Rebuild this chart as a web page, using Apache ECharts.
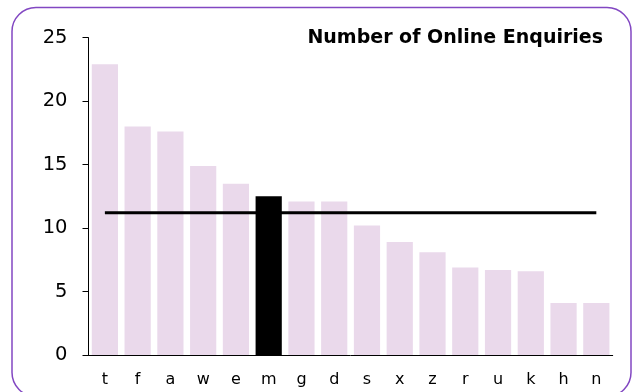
<!DOCTYPE html>
<html>
<head>
<meta charset="utf-8">
<script src="https://cdn.jsdelivr.net/npm/echarts@6/dist/echarts.min.js"></script>
<style>
  html, body { margin: 0; padding: 0; background: #ffffff; }
  #chart { width: 635px; height: 392px; }
</style>
</head>
<body>
<div id="chart"></div>
<script>
// Enquiries per site code, sorted high to low
const categories = ['t', 'f', 'a', 'w', 'e', 'm', 'g', 'd', 's', 'x', 'z', 'r', 'u', 'k', 'h', 'n'];
const enquiries = [22.9, 18, 17.6, 14.9, 13.5, 12.5, 12.1, 12.1, 10.2, 8.9, 8.1, 6.9, 6.7, 6.6, 4.1, 4.1];
const highlighted = 'm';
const averageValue = 11.2;
const yTicks = [0, 5, 10, 15, 20, 25];

const chart = echarts.init(document.getElementById('chart'), null, { renderer: 'canvas' });

const barData = enquiries.map((v, i) => ({
  value: v,
  itemStyle: { color: categories[i] === highlighted ? '#000000' : '#ead9eb' }
}));

chart.setOption({
  animation: false,
  backgroundColor: '#ffffff',
  title: {
    text: 'Number of Online Enquiries',
    right: 27,
    top: 24,
    textStyle: { fontFamily: 'DejaVu Sans', fontWeight: 'bold', fontSize: 19, color: '#000' }
  },
  graphic: [{
    type: 'rect',
    shape: { x: 12, y: 7.5, width: 619, height: 389, r: 24 },
    style: { fill: 'none', stroke: '#8247c2', lineWidth: 1.5 },
    z: 10
  }],
  grid: { left: 88.5, right: 22.3, top: 37.7, bottom: 37 },
  xAxis: {
    type: 'category',
    data: categories,
    axisLine: { lineStyle: { color: '#000', width: 1 } },
    axisTick: { show: false },
    axisLabel: { color: '#000', fontFamily: 'DejaVu Sans', fontSize: 16, margin: 17 }
  },
  yAxis: {
    type: 'value',
    min: yTicks[0],
    max: yTicks[yTicks.length - 1],
    interval: 5,
    splitLine: { show: false },
    axisLine: { show: true, lineStyle: { color: '#000', width: 1 } },
    axisTick: { show: true, length: 6, lineStyle: { color: '#000' } },
    axisLabel: { color: '#000', fontFamily: 'DejaVu Sans', fontSize: 19.5, margin: 21 }
  },
  series: [
    {
      type: 'bar',
      data: barData,
      barCategoryGap: '20%',
      z: 2
    },
    {
      type: 'line',
      data: categories.map(() => averageValue),
      symbol: 'none',
      lineStyle: { color: '#000', width: 3 },
      z: 3
    }
  ]
});
</script>
</body>
</html>
